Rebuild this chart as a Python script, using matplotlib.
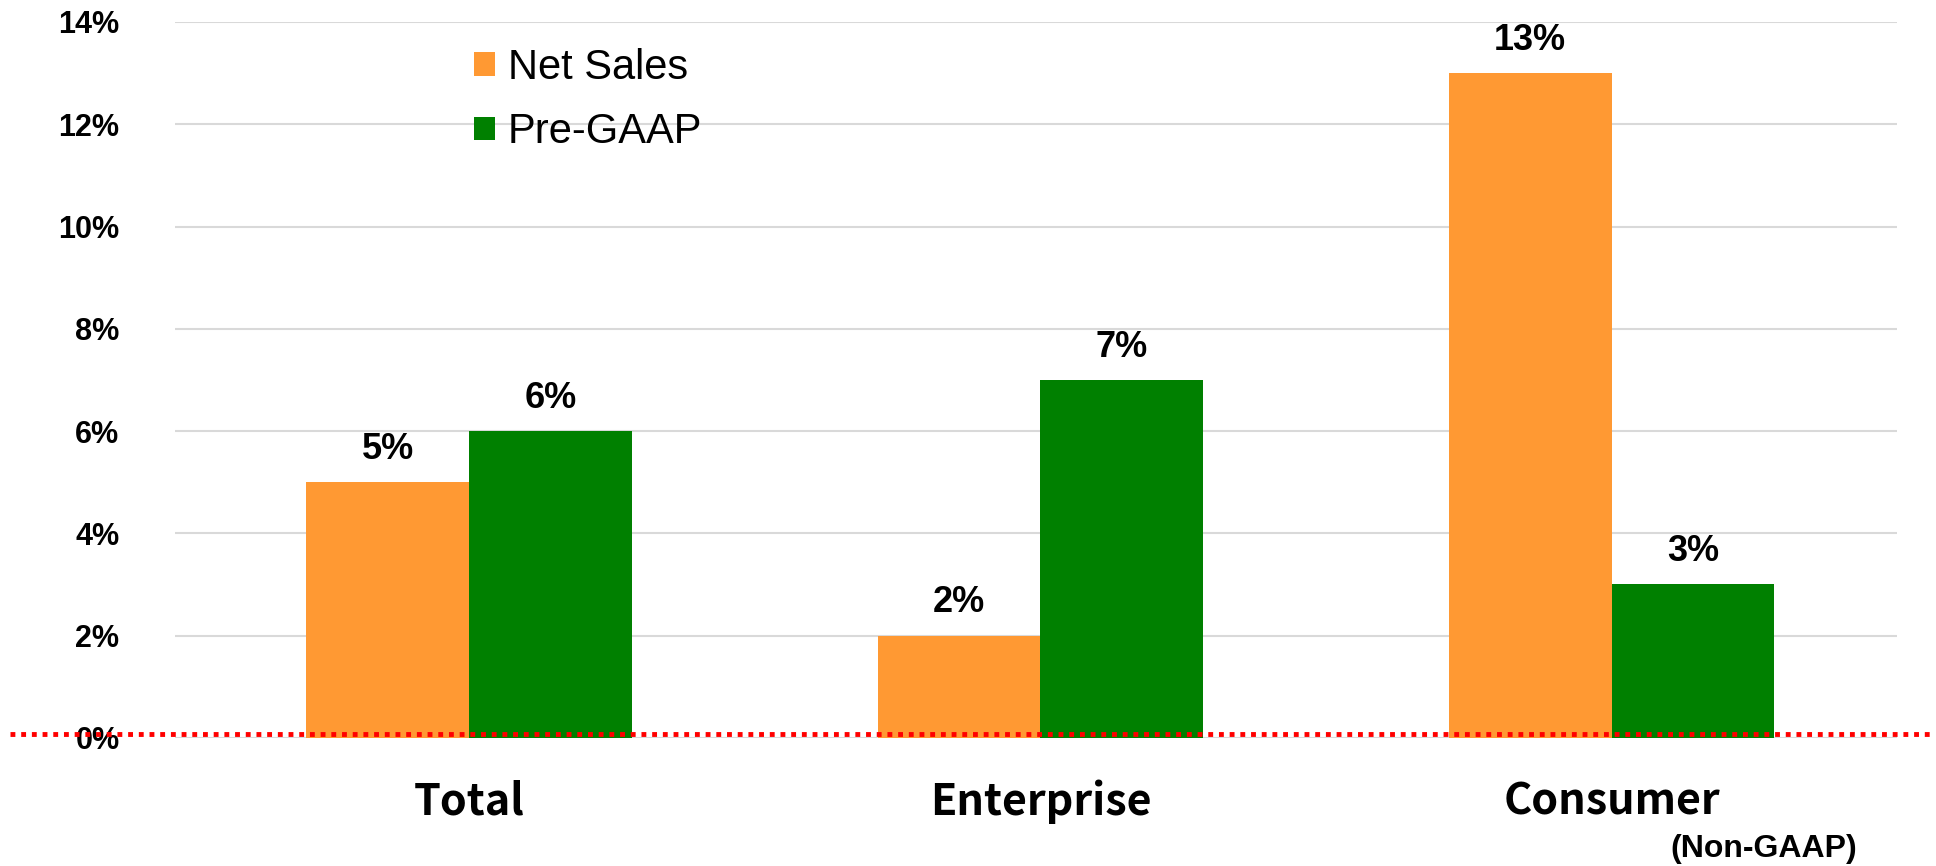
import matplotlib
matplotlib.use("Agg")
import matplotlib.pyplot as plt
from matplotlib.lines import Line2D
import matplotlib.transforms as mtransforms
import numpy as np

categories = ["Total", "Enterprise", "Consumer"]
net_sales = [5, 2, 13]
pre_gaap = [6, 7, 3]
series_names = ["Net Sales", "Pre-GAAP"]
yticks = [0, 2, 4, 6, 8, 10, 12, 14]
ytick_labels = [f"{v}%" for v in yticks]

ORANGE = "#FF9933"
GREEN = "#008000"
narrow = ["Liberation Sans Narrow", "Liberation Sans", "DejaVu Sans"]
catfont = ["Noto Sans CJK JP", "DejaVu Sans"]

fig = plt.figure(figsize=(19.36, 8.66), dpi=100)
ax = fig.add_axes([0.0904, 0.148, 0.8896, 0.8266])

x = np.arange(len(categories))
w = 0.285
b1 = ax.bar(x - w / 2, net_sales, w, color=ORANGE, label=series_names[0], zorder=3)
b2 = ax.bar(x + w / 2, pre_gaap, w, color=GREEN, label=series_names[1], zorder=3)

for bars, vals in ((b1, net_sales), (b2, pre_gaap)):
    for r, v in zip(bars, vals):
        ax.annotate(f"{v}%", (r.get_x() + r.get_width() / 2, v), xytext=(0, 11),
                    textcoords="offset points", ha="center", va="bottom",
                    fontsize=26, fontweight="bold", family=narrow, zorder=4)

ax.set_ylim(0, 14)
ax.set_xlim(-0.515, 2.5)
ax.set_yticks(yticks)
ax.set_yticklabels(ytick_labels, fontsize=22, fontweight="bold", family=narrow)
ax.tick_params(axis="y", length=0, pad=40)
ax.grid(axis="y", color="#D9D9D9", linewidth=1.5, zorder=0)
for s in ax.spines.values():
    s.set_visible(False)

ax.set_xticks(x)
ax.set_xticklabels(categories, fontsize=31, fontweight="bold", family=catfont)
ax.tick_params(axis="x", length=0, pad=30)

ax.text(2.103, -2.17, "(Non-GAAP)", fontsize=23, fontweight="bold", family=narrow,
        ha="left", va="center", transform=ax.transData)

# red dotted baseline across the full figure width
trans = mtransforms.blended_transform_factory(fig.transFigure, ax.transData)
fig.add_artist(Line2D([0.005, 0.998], [0.07, 0.07], transform=trans, color="#FF0000",
                      linewidth=3.5, linestyle=(0, (1, 1.2)), zorder=10))

leg = ax.legend(loc="upper left", bbox_to_anchor=(0.152, 1.016), frameon=False,
                prop={"family": ["Liberation Sans", "DejaVu Sans"], "size": 30},
                handlelength=0.5, handleheight=0.5, handletextpad=0.3, labelspacing=0.58)

fig.savefig("out.png", dpi=100)
